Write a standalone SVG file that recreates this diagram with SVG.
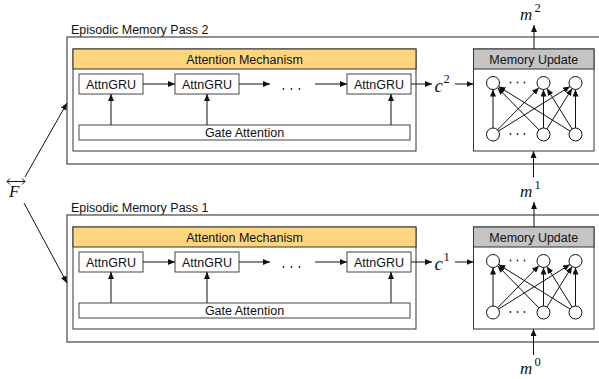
<svg xmlns="http://www.w3.org/2000/svg" width="599" height="379" viewBox="0 0 599 379">
<style>
.outer{fill:#fff;stroke:#555;stroke-width:1.3}
.box{fill:#fff;stroke:#333;stroke-width:1}
.hdrY{fill:#FFD57E;stroke:#333;stroke-width:1}
.hdrG{fill:#C4C4C4;stroke:#333;stroke-width:1}
.cell{fill:#fff;stroke:#444;stroke-width:1}
.t{font-family:"Liberation Sans",Arial,sans-serif;font-size:12.5px;fill:#111}
.c{text-anchor:middle}
.m{font-family:"Liberation Serif","Times New Roman",serif;font-style:italic;font-size:17px;fill:#111}
.cc{font-size:19px}
.s{font-family:"Liberation Serif","Times New Roman",serif;font-size:12.5px;fill:#111}
.ln{fill:none;stroke:#111;stroke-width:1}
.dot{fill:#222}
.nd{fill:#fff;stroke:#111;stroke-width:1}
</style>
<defs>
<marker id="ah" markerUnits="userSpaceOnUse" markerWidth="8" markerHeight="6" refX="7" refY="3" orient="auto">
<path d="M0,0 L7,3 L0,6 Z" fill="#111"/>
</marker>
<g id="net">
<line class="ln" x1="493" y1="128" x2="493" y2="89.5" marker-end="url(#ah)"/>
<line class="ln" x1="497.55" y1="129.86" x2="538.95" y2="87.64" marker-end="url(#ah)"/>
<line class="ln" x1="498.51" y1="131.06" x2="569.99" y2="86.44" marker-end="url(#ah)"/>
<line class="ln" x1="538.95" y1="129.86" x2="497.55" y2="87.64" marker-end="url(#ah)"/>
<line class="ln" x1="543.5" y1="128" x2="543.5" y2="89.5" marker-end="url(#ah)"/>
<line class="ln" x1="546.93" y1="128.98" x2="572.07" y2="88.52" marker-end="url(#ah)"/>
<line class="ln" x1="569.99" y1="131.06" x2="498.51" y2="86.44" marker-end="url(#ah)"/>
<line class="ln" x1="572.07" y1="128.98" x2="546.93" y2="88.52" marker-end="url(#ah)"/>
<line class="ln" x1="575.5" y1="128" x2="575.5" y2="89.5" marker-end="url(#ah)"/>
<circle class="nd" cx="493" cy="83" r="6.5"/>
<circle class="nd" cx="543.5" cy="83" r="6.5"/>
<circle class="nd" cx="575.5" cy="83" r="6.5"/>
<circle class="nd" cx="493" cy="134.5" r="6.5"/>
<circle class="nd" cx="543.5" cy="134.5" r="6.5"/>
<circle class="nd" cx="575.5" cy="134.5" r="6.5"/>
<circle class="dot" cx="510.5" cy="82.5" r="0.9"/>
<circle class="dot" cx="517.5" cy="82.5" r="0.9"/>
<circle class="dot" cx="524.5" cy="82.5" r="0.9"/>
<circle class="dot" cx="510.5" cy="134" r="0.9"/>
<circle class="dot" cx="517.5" cy="134" r="0.9"/>
<circle class="dot" cx="524.5" cy="134" r="0.9"/>
</g>
</defs>
<rect width="599" height="379" fill="#fff"/>

<!-- Pass 2 -->
<g id="pass2">
<text class="t" x="71" y="34">Episodic Memory Pass 2</text>
<rect class="outer" x="67" y="37" width="545" height="127"/>
<g id="attn2">
<rect class="box" x="73" y="49" width="343" height="102"/>
<rect class="hdrY" x="73" y="49" width="343" height="20"/>
<text class="t c" x="244.5" y="63.5">Attention Mechanism</text>
</g>
<g id="gru2a"><rect class="cell" x="79" y="74" width="64" height="20"/><text class="t c" x="111" y="88.5">AttnGRU</text></g>
<g id="gru2b"><rect class="cell" x="175" y="74" width="64" height="20"/><text class="t c" x="207" y="88.5">AttnGRU</text></g>
<g id="dots2"><circle class="dot" cx="283.5" cy="89" r="0.9"/><circle class="dot" cx="291.5" cy="89" r="0.9"/><circle class="dot" cx="299.5" cy="89" r="0.9"/></g>
<g id="gru2c"><rect class="cell" x="347" y="74" width="64" height="20"/><text class="t c" x="379" y="88.5">AttnGRU</text></g>
<g id="gate2"><rect class="cell" x="79" y="125" width="331" height="15"/><text class="t c" x="244.5" y="137">Gate Attention</text></g>
<g id="c2"><text class="m cc" x="434.5" y="91.5">c</text><text class="s" x="443.5" y="83">2</text></g>
<g id="mem2">
<rect class="box" x="473.5" y="49" width="120.5" height="102"/>
<rect class="hdrG" x="473.5" y="49" width="120.5" height="20"/>
<text class="t c" x="533.75" y="63.5">Memory Update</text>
<use href="#net"/>
</g>
</g>

<!-- Pass 1 -->
<g id="pass1">
<text class="t" x="71" y="212">Episodic Memory Pass 1</text>
<rect class="outer" x="67" y="215" width="545" height="127"/>
<g id="attn1">
<rect class="box" x="73" y="227" width="343" height="102"/>
<rect class="hdrY" x="73" y="227" width="343" height="20"/>
<text class="t c" x="244.5" y="241.5">Attention Mechanism</text>
</g>
<g id="gru1a"><rect class="cell" x="79" y="252" width="64" height="20"/><text class="t c" x="111" y="266.5">AttnGRU</text></g>
<g id="gru1b"><rect class="cell" x="175" y="252" width="64" height="20"/><text class="t c" x="207" y="266.5">AttnGRU</text></g>
<g id="dots1"><circle class="dot" cx="283.5" cy="267" r="0.9"/><circle class="dot" cx="291.5" cy="267" r="0.9"/><circle class="dot" cx="299.5" cy="267" r="0.9"/></g>
<g id="gru1c"><rect class="cell" x="347" y="252" width="64" height="20"/><text class="t c" x="379" y="266.5">AttnGRU</text></g>
<g id="gate1"><rect class="cell" x="79" y="303" width="331" height="15"/><text class="t c" x="244.5" y="315">Gate Attention</text></g>
<g id="c1"><text class="m cc" x="434.5" y="269.5">c</text><text class="s" x="443.5" y="261">1</text></g>
<g id="mem1">
<rect class="box" x="473.5" y="227" width="120.5" height="102"/>
<rect class="hdrG" x="473.5" y="227" width="120.5" height="20"/>
<text class="t c" x="533.75" y="241.5">Memory Update</text>
<use href="#net" transform="translate(0,178)"/>
</g>
</g>

<!-- labels -->
<g id="F">
<path class="ln" d="M7,181.5 H25 M10,178.5 L7,181.5 L10,184.5 M22,178.5 L25,181.5 L22,184.5"/>
<text class="m" x="9" y="197" font-size="15">F</text>
</g>
<g id="m2"><text class="m" x="520" y="19.5">m</text><text class="s" x="534.5" y="12">2</text></g>
<g id="m1"><text class="m" x="520" y="196.5">m</text><text class="s" x="534.5" y="189">1</text></g>
<g id="m0"><text class="m" x="520" y="373.5">m</text><text class="s" x="534.5" y="366">0</text></g>

<!-- connectors -->
<g id="connectors">
<line class="ln" x1="25" y1="177" x2="67" y2="103" marker-end="url(#ah)"/>
<line class="ln" x1="24" y1="203" x2="67" y2="283" marker-end="url(#ah)"/>
<line class="ln" x1="143" y1="84" x2="175" y2="84" marker-end="url(#ah)"/>
<line class="ln" x1="239" y1="84" x2="270" y2="84" marker-end="url(#ah)"/>
<line class="ln" x1="315" y1="84" x2="347" y2="84" marker-end="url(#ah)"/>
<line class="ln" x1="111" y1="125" x2="111" y2="94" marker-end="url(#ah)"/>
<line class="ln" x1="207" y1="125" x2="207" y2="94" marker-end="url(#ah)"/>
<line class="ln" x1="391" y1="125" x2="391" y2="94" marker-end="url(#ah)"/>
<line class="ln" x1="411" y1="84" x2="432" y2="84" marker-end="url(#ah)"/>
<line class="ln" x1="455" y1="84" x2="473.5" y2="84" marker-end="url(#ah)"/>
<line class="ln" x1="534" y1="49" x2="534" y2="25" marker-end="url(#ah)"/>
<line class="ln" x1="533.5" y1="177" x2="533.5" y2="151" marker-end="url(#ah)"/>
<line class="ln" x1="143" y1="262" x2="175" y2="262" marker-end="url(#ah)"/>
<line class="ln" x1="239" y1="262" x2="270" y2="262" marker-end="url(#ah)"/>
<line class="ln" x1="315" y1="262" x2="347" y2="262" marker-end="url(#ah)"/>
<line class="ln" x1="111" y1="303" x2="111" y2="272" marker-end="url(#ah)"/>
<line class="ln" x1="207" y1="303" x2="207" y2="272" marker-end="url(#ah)"/>
<line class="ln" x1="391" y1="303" x2="391" y2="272" marker-end="url(#ah)"/>
<line class="ln" x1="411" y1="262" x2="432" y2="262" marker-end="url(#ah)"/>
<line class="ln" x1="455" y1="262" x2="473.5" y2="262" marker-end="url(#ah)"/>
<line class="ln" x1="534" y1="227" x2="534" y2="202" marker-end="url(#ah)"/>
<line class="ln" x1="533.5" y1="355" x2="533.5" y2="329" marker-end="url(#ah)"/>
</g>
</svg>
